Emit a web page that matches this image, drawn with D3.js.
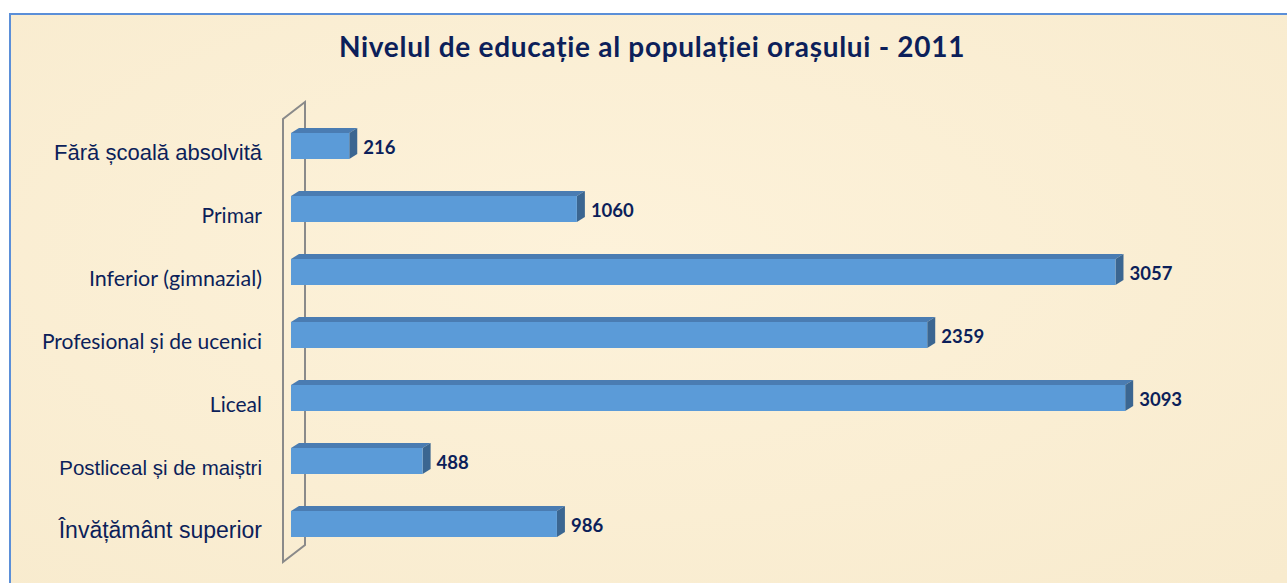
<!DOCTYPE html>
<html>
<head>
<meta charset="utf-8">
<script src="https://cdn.jsdelivr.net/npm/d3@7/dist/d3.min.js"></script>
<style>
  html, body { margin: 0; padding: 0; background: #fff; }
</style>
</head>
<body>
<div id="chart"></div>
<script>
// data
const TITLE = "Nivelul de educație al populației orașului - 2011";
const CATEGORIES = [
    "Fără școală absolvită",
    "Primar",
    "Inferior (gimnazial)",
    "Profesional și de ucenici",
    "Liceal",
    "Postliceal și de maiștri",
    "Învățământ superior"
];
const VALUES = [216, 1060, 3057, 2359, 3093, 488, 986];

// dimensions
const W = 1287, H = 583;
const DEPTH = { dx: 8, dy: -5 };     // bar depth
const WALL = { dx: 22, dy: -17 };    // back wall depth
const BAR_H = 26;
const NAVY = "#0c1f5a";
const LATO = "Lato, 'Open Sans', sans-serif";
const ARIAL = "'Liberation Sans', Arial, sans-serif";

// the source mixes two fonts on the category axis
const labelFont = i => (i === 0 || i === 5 || i === 6) ? ARIAL : LATO;
const labelSize = i => [22, 21, 21.5, 21, 21, 20.5, 23][i];

const svg = d3.select("#chart")
    .append("svg")
    .attr("width", W)
    .attr("height", H);

// parchment background + frame
const defs = svg.append("defs");
const grad = defs.append("radialGradient")
    .attr("id", "paper")
    .attr("cx", "45%").attr("cy", "40%").attr("r", "75%");
grad.append("stop").attr("offset", "0%").attr("stop-color", "#fdf2da");
grad.append("stop").attr("offset", "100%").attr("stop-color", "#f8ebce");

svg.append("rect")
    .attr("x", 10).attr("y", 14)
    .attr("width", W + 20).attr("height", H + 20)
    .attr("fill", "url(#paper)")
    .attr("stroke", "#5b8fd8")
    .attr("stroke-width", 2);

// title
svg.append("text")
    .attr("x", 652)
    .attr("y", 57)
    .attr("text-anchor", "middle")
    .attr("font-family", LATO)
    .attr("font-weight", "bold")
    .attr("font-size", 28)
    .attr("letter-spacing", 0.7)
    .attr("fill", NAVY)
    .text(TITLE);

// scales
const x = d3.scaleLinear()
    .domain([0, 3500])
    .range([291, 291 + 3500 * 0.2697]);

const y = d3.scalePoint()
    .domain(CATEGORIES)
    .range([146, 524]);

// back wall (3D axis)
const wallX = 283;
const wallTop = y(CATEGORIES[0]) - 27;
const wallBot = y(CATEGORIES[CATEGORIES.length - 1]) + 38;
svg.append("path")
    .attr("fill", "none")
    .attr("stroke", "#8a8a8a")
    .attr("stroke-width", 2)
    .attr("d", `M${wallX},${wallBot} L${wallX},${wallTop} L${wallX + WALL.dx},${wallTop + WALL.dy} L${wallX + WALL.dx},${wallBot + WALL.dy} Z`);

// bars
const rows = CATEGORIES.map((c, i) => ({ cat: c, value: VALUES[i] }));

const bar = svg.selectAll(".bar")
    .data(rows)
    .enter()
    .append("g")
    .attr("class", "bar");

// top face
bar.append("path")
    .attr("fill", "#4a7cb2")
    .attr("d", d => {
        const x0 = x(0), x1 = x(d.value), t = y(d.cat) - BAR_H / 2;
        return `M${x0},${t} L${x0 + DEPTH.dx},${t + DEPTH.dy} L${x1 + DEPTH.dx},${t + DEPTH.dy} L${x1},${t} Z`;
    });

// side face
bar.append("path")
    .attr("fill", "#3b6691")
    .attr("d", d => {
        const x1 = x(d.value), t = y(d.cat) - BAR_H / 2, b = t + BAR_H;
        return `M${x1},${t} L${x1 + DEPTH.dx},${t + DEPTH.dy} L${x1 + DEPTH.dx},${b + DEPTH.dy} L${x1},${b} Z`;
    });

// front face
bar.append("rect")
    .attr("fill", "#5b9bd8")
    .attr("x", x(0))
    .attr("y", d => y(d.cat) - BAR_H / 2)
    .attr("width", d => x(d.value) - x(0))
    .attr("height", BAR_H);

// value labels
bar.append("text")
    .attr("x", d => x(d.value) + DEPTH.dx + 6)
    .attr("y", d => y(d.cat) + 8)
    .attr("font-family", LATO)
    .attr("font-weight", "bold")
    .attr("font-size", 18.5)
    .attr("fill", NAVY)
    .text(d => d.value);

// category labels
svg.selectAll(".cat-label")
    .data(CATEGORIES)
    .enter()
    .append("text")
    .attr("class", "cat-label")
    .attr("x", 262)
    .attr("y", d => y(d) + 13.5)
    .attr("text-anchor", "end")
    .attr("font-family", (d, i) => labelFont(i))
    .attr("font-size", (d, i) => labelSize(i))
    .attr("fill", NAVY)
    .text(d => d);
</script>
</body>
</html>
